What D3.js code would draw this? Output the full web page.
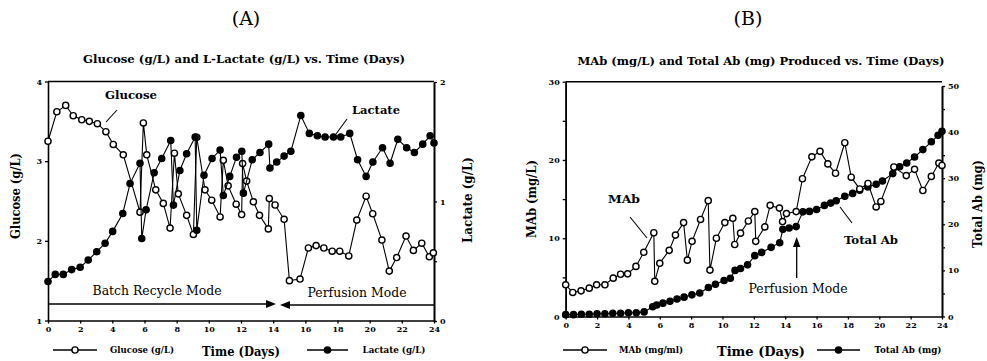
<!DOCTYPE html>
<html>
<head>
<meta charset="utf-8">
<script src="https://cdn.jsdelivr.net/npm/d3@7"></script>
<style>
  body { margin: 0; background: #fff; }
  svg text { font-family: "DejaVu Serif", "Liberation Serif", serif; fill: #000; }
</style>
</head>
<body>
<svg id="chart" width="987" height="361"></svg>
<script>
// [day, value] pairs
const glucose = [[0,3.25],[0.55,3.62],[1.1,3.70],[1.57,3.57],[2.1,3.52],[2.57,3.50],[3.07,3.47],[3.6,3.37],[4.06,3.21],[4.68,3.08],
  [5.72,2.36],[5.93,3.48],[6.14,3.08],[6.7,2.64],[7.17,2.47],[7.59,2.16],[7.86,3.10],[8.1,2.59],[8.62,2.32],[9.04,2.08],
  [9.25,3.30],[9.76,2.64],[10.18,2.51],[10.7,2.30],[10.9,3.01],[11.2,2.69],[11.7,2.46],[12.04,2.33],[12.1,2.97],[12.35,2.75],
  [12.77,2.49],[13.15,2.32],[13.7,2.15],[13.76,2.53],[14.12,2.45],[14.68,2.27],[15.01,1.50],[15.67,1.52],[16.19,1.91],[16.67,1.94],
  [17.15,1.91],[17.67,1.87],[18.14,1.87],[18.7,1.81],[19.2,2.26],[19.78,2.56],[20.19,2.34],[20.76,2.01],[21.22,1.62],[21.68,1.79],
  [22.26,2.06],[22.72,1.88],[23.24,1.97],[23.71,1.80],[23.96,1.85]];

const lactate = [[0,0.33],[0.45,0.39],[0.95,0.39],[1.47,0.43],[2.0,0.45],[2.5,0.51],[3.03,0.58],[3.55,0.65],[4.02,0.75],[4.65,0.90],
  [5.1,1.15],[5.72,1.32],[5.83,0.69],[6.1,0.93],[6.6,1.24],[7.07,1.36],[7.63,1.51],[7.8,0.97],[8.2,1.26],[8.62,1.40],
  [9.15,1.54],[9.25,0.76],[9.7,1.22],[10.2,1.36],[10.7,1.43],[10.9,1.05],[11.3,1.21],[11.72,1.37],[12.05,1.42],[12.15,1.07],
  [12.7,1.35],[13.18,1.41],[13.72,1.48],[13.8,1.28],[14.22,1.33],[14.68,1.38],[15.1,1.42],[15.72,1.72],[16.25,1.57],[16.75,1.55],
  [17.23,1.54],[17.75,1.54],[18.2,1.54],[18.76,1.57],[19.25,1.35],[19.78,1.21],[20.2,1.33],[20.8,1.45],[21.27,1.32],[21.75,1.52],
  [22.3,1.45],[22.78,1.41],[23.3,1.48],[23.76,1.55],[24.0,1.49]];

const mab = [[0,4.05],[0.45,3.07],[0.98,3.28],[1.5,3.62],[1.97,4.05],[2.5,4.05],[3.03,4.9],[3.5,5.4],[3.95,5.45],[4.48,6.4],
  [4.98,8.2],[5.62,10.7],[5.68,4.5],[6.0,6.8],[6.6,8.45],[7.0,10.4],[7.52,12.0],[7.76,7.2],[8.06,9.6],[8.6,12.4],
  [9.09,14.8],[9.2,5.93],[9.61,10.0],[10.15,12.0],[10.66,12.55],[10.78,9.2],[11.15,10.65],[11.65,12.2],[12.06,13.4],[12.12,9.6],
  [12.7,11.45],[13.04,14.2],[13.63,13.85],[13.83,12.13],[14.08,13.15],[14.7,13.4],[15.1,17.6],[15.7,20.4],[16.22,21.1],[16.72,19.5],
  [17.21,18.3],[17.8,22.2],[18.21,17.8],[18.75,16.3],[19.28,17.0],[19.8,14.0],[20.1,14.7],[20.93,19.1],[21.72,18.0],[22.25,18.8],
  [22.78,16.1],[23.32,17.9],[23.8,19.6],[24.0,19.3]];

const totalAb = [[0,0.4],[0.5,0.4],[1.0,0.5],[1.5,0.5],[2.0,0.6],[2.5,0.6],[3.0,0.7],[3.5,0.7],[4.0,0.8],[4.5,0.8],
  [5.0,1.0],[5.55,2.1],[5.8,2.5],[6.2,2.9],[6.65,3.3],[7.1,3.8],[7.55,4.2],[8.05,4.7],[8.55,5.1],[9.1,6.3],
  [9.55,7.0],[10.1,7.8],[10.5,8.3],[10.8,10.0],[11.15,10.4],[11.6,11.2],[12.06,13.2],[12.5,13.9],[13.1,15.0],[13.65,16.0],
  [13.85,18.9],[14.25,19.2],[14.7,19.5],[15.13,22.7],[15.55,22.8],[16.0,23.2],[16.5,24.1],[16.9,24.6],[17.25,25.1],[17.8,26.1],
  [18.3,26.7],[18.75,27.4],[19.27,28.1],[19.8,28.7],[20.2,29.4],[20.86,31.0],[21.3,32.5],[21.75,33.3],[22.25,34.6],[22.78,36.2],
  [23.32,37.9],[23.75,39.3],[24.0,40.2]];

const dayTicks = [0, 2, 4, 6, 8, 10, 12, 14, 16, 18, 20, 22, 24];
const glucoseTicks = [1, 2, 3, 4];
const lactateTicks = [0, 1, 2];
const mabTicks = [0, 10, 20, 30];
const totalAbTicks = [0, 10, 20, 30, 40, 50];

const svg = d3.select("#chart");
const R = 3.1;

function axisStyle(g) {
  g.select(".domain").attr("stroke", "#000").attr("stroke-width", 1.6);
  g.selectAll(".tick line").attr("stroke", "#000").attr("stroke-width", 1.3);
  g.selectAll(".tick text")
    .style("font-size", "8px").style("font-weight", "bold")
    .style("font-family", "\"DejaVu Serif\", serif");
}

function drawSeries(data, x, y, filled) {
  const line = d3.line().x(d => x(d[0])).y(d => y(d[1]));
  svg.append("path")
    .attr("d", line(data))
    .attr("fill", "none")
    .attr("stroke", "#000")
    .attr("stroke-width", 1.1);
  svg.append("g")
    .selectAll("circle")
    .data(data)
    .enter()
    .append("circle")
    .attr("cx", d => x(d[0]))
    .attr("cy", d => y(d[1]))
    .attr("r", R)
    .attr("fill", filled ? "#000" : "#fff")
    .attr("stroke", "#000")
    .attr("stroke-width", 1.4);
}

function boldText(x, y, str, size, len, rotate) {
  const t = svg.append("text")
    .attr("text-anchor", "middle")
    .style("font-size", size + "px")
    .style("font-weight", "bold")
    .text(str);
  if (len) t.attr("textLength", len).attr("lengthAdjust", "spacingAndGlyphs");
  if (rotate) t.attr("transform", `translate(${x},${y}) rotate(-90)`);
  else t.attr("x", x).attr("y", y);
  return t;
}

function plainText(x, y, str, size, len) {
  return svg.append("text")
    .attr("x", x).attr("y", y)
    .attr("text-anchor", "middle")
    .attr("textLength", len).attr("lengthAdjust", "spacingAndGlyphs")
    .style("font-size", size + "px")
    .text(str);
}

function seg(x1, y1, x2, y2, w) {
  svg.append("line")
    .attr("x1", x1).attr("y1", y1).attr("x2", x2).attr("y2", y2)
    .attr("stroke", "#000").attr("stroke-width", w || 1.1);
}

function legendItem(x1, x2, y, filled, label, tx, tlen) {
  seg(x1, y, x2, y, 1.3);
  svg.append("circle")
    .attr("cx", (x1 + x2) / 2).attr("cy", y).attr("r", R)
    .attr("fill", filled ? "#000" : "#fff")
    .attr("stroke", "#000").attr("stroke-width", 1.4);
  boldText(tx, y + 3, label, 8.5, tlen);
}

// ---------- Panel A ----------
const xA = d3.scaleLinear().domain([0, 24]).range([48, 434]);
const yGlu = d3.scaleLinear().domain([1, 4]).range([320.5, 81.5]);
const yLac = d3.scaleLinear().domain([0, 2]).range([321, 82]);

seg(xA(0), yGlu(4), xA(24), yGlu(4), 1.6);

svg.append("g").attr("transform", `translate(${xA(0)},0)`)
  .call(d3.axisLeft(yGlu).tickValues(glucoseTicks).tickSize(3).tickSizeOuter(0).tickFormat(d3.format("d")))
  .call(axisStyle);
svg.append("g").attr("transform", `translate(${xA(24)},0)`)
  .call(d3.axisRight(yLac).tickValues(lactateTicks).tickSize(3).tickSizeOuter(0).tickFormat(d3.format("d")))
  .call(axisStyle);
svg.append("g").attr("transform", `translate(${xA(24)},0)`)
  .call(d3.axisRight(yLac).tickValues([0.5, 1.5]).tickSize(3).tickSizeOuter(0).tickFormat(""))
  .call(axisStyle);
svg.append("g").attr("transform", `translate(0,${yGlu(1)})`)
  .call(d3.axisBottom(xA).tickValues(dayTicks).tickSize(3).tickSizeOuter(0).tickFormat(d3.format("d")))
  .call(axisStyle);

drawSeries(glucose, xA, yGlu, false);
drawSeries(lactate, xA, yLac, true);

// annotations
boldText(131, 99, "Glucose", 11, 52);
seg(117, 110, 106, 122);
boldText(376, 114, "Lactate", 11, 48);
seg(347, 119, 336, 134);

plainText(157, 295, "Batch Recycle Mode", 12, 129);
plainText(357, 297, "Perfusion Mode", 12, 99);
seg(xA(0), 304, 268, 304, 1.3);
svg.append("path").attr("d", "M276,304 L266,300 L266,308 Z").attr("fill", "#000");
seg(288, 305, xA(24), 305, 1.3);
svg.append("path").attr("d", "M280,305 L290,301 L290,309 Z").attr("fill", "#000");

boldText(244, 63, "Glucose (g/L) and L-Lactate (g/L) vs. Time (Days)", 11, 322);
svg.append("text").attr("x", 246).attr("y", 25).attr("text-anchor", "middle")
  .style("font-size", "19px").text("(A)");
boldText(20, 196, "Glucose (g/L)", 12, 86, true);
boldText(472, 200, "Lactate (g/L)", 12, 86, true);
boldText(241, 356, "Time (Days)", 13, 78);
legendItem(53, 97, 350, false, "Glucose (g/L)", 142, 64);
legendItem(307, 348, 350, true, "Lactate (g/L)", 394, 63);

// ---------- Panel B ----------
const xB = d3.scaleLinear().domain([0, 24]).range([565.7, 942]);
const yMab = d3.scaleLinear().domain([0, 30]).range([316.5, 81.7]);
const yTot = d3.scaleLinear().domain([0, 50]).range([316.5, 86]);

seg(xB(0), yMab(30), xB(24), yMab(30), 1.6);

svg.append("g").attr("transform", `translate(${xB(0)},0)`)
  .call(d3.axisLeft(yMab).tickValues(mabTicks).tickSize(3).tickSizeOuter(0).tickFormat(d3.format("d")))
  .call(axisStyle);
svg.append("g").attr("transform", `translate(${xB(0)},0)`)
  .call(d3.axisLeft(yMab).tickValues([5, 15, 25]).tickSize(3).tickSizeOuter(0).tickFormat(""))
  .call(axisStyle);
svg.append("g").attr("transform", `translate(${xB(24)},0)`)
  .call(d3.axisRight(yTot).tickValues(totalAbTicks).tickSize(3).tickSizeOuter(0).tickFormat(d3.format("d")))
  .call(axisStyle);
svg.append("g").attr("transform", `translate(${xB(24)},0)`)
  .call(d3.axisRight(yTot).tickValues([5, 15, 25, 35, 45]).tickSize(3).tickSizeOuter(0).tickFormat(""))
  .call(axisStyle);
svg.append("g").attr("transform", `translate(0,${yMab(0)})`)
  .call(d3.axisBottom(xB).tickValues(dayTicks).tickSize(3).tickSizeOuter(0).tickFormat(d3.format("d")))
  .call(axisStyle);

drawSeries(totalAb, xB, yTot, true);
drawSeries(mab, xB, yMab, false);

boldText(624, 203, "MAb", 11, 32);
seg(630, 217, 647, 238);
boldText(871, 244, "Total Ab", 11, 54);
seg(840, 207, 852, 223);
plainText(798, 293, "Perfusion Mode", 12, 99);
seg(796.7, 278, 796.7, 246, 1.3);
svg.append("path").attr("d", "M796.7,237 L793,247 L800.4,247 Z").attr("fill", "#000");

boldText(761, 65, "MAb (mg/L) and Total Ab (mg) Produced vs. Time (Days)", 11, 367);
svg.append("text").attr("x", 748).attr("y", 25).attr("text-anchor", "middle")
  .style("font-size", "19px").text("(B)");
boldText(536, 199, "MAb (mg/L)", 12, 78, true);
boldText(982, 204, "Total Ab (mg)", 12, 88, true);
boldText(761, 356, "Time (Days)", 13, 88);
legendItem(563, 607, 350, false, "MAb (mg/ml)", 651, 64);
legendItem(817, 860, 350, true, "Total Ab (mg)", 908, 67);
</script>
</body>
</html>
